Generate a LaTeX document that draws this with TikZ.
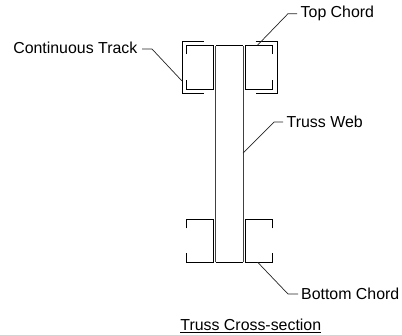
\documentclass[tikz,border=0pt]{standalone}
\usepackage{fontspec}
\setmainfont{Liberation Sans}
\begin{document}
\begin{tikzpicture}[x=1pt,y=-1pt,
  lbl/.style={font=\fontsize{15.9}{18}\selectfont,inner sep=0pt,text=black},
  member/.style={draw=black,line width=1pt,line cap=butt,line join=miter},
  leader/.style={draw=black!85,line width=0.7pt}]
\useasboundingbox (0,0) rectangle (402,335);
\fill[white] (0,0) rectangle (402,335);
% web
\draw[member,black!75] (215.7,262.3) -- (215.7,45.7);
\draw[member,black!75] (243,262.3) -- (243,45.7);
\draw[member] (215.7,45.7) -- (243,45.7);
\draw[member] (215.7,262.3) -- (243,262.3);
% top chord channels
\draw[member] (186.3,54) -- (186.3,45.7) -- (213.5,45.7) -- (213.5,89) -- (186.3,89) -- (186.3,80);
\draw[member] (272.7,54) -- (272.7,45.7) -- (245.3,45.7) -- (245.3,89) -- (272.7,89) -- (272.7,80);
% tracks
\draw[member] (203.5,41.3) -- (182.3,41.3) -- (182.3,93.3) -- (203.5,93.3);
\draw[member] (255.7,41.3) -- (277,41.3) -- (277,93.3) -- (255.7,93.3);
% bottom chord channels
\draw[member] (186.3,228.3) -- (186.3,219) -- (213.5,219) -- (213.5,262.3) -- (186.3,262.3) -- (186.3,253);
\draw[member] (272.7,228.3) -- (272.7,219) -- (245.3,219) -- (245.3,262.3) -- (272.7,262.3) -- (272.7,253);
% labels
\node[lbl,anchor=west] (top) at (300.5,13.5) {Top Chord};
\node[lbl,anchor=east] (track) at (137.5,48) {Continuous Track};
\node[lbl,anchor=west] (web) at (286.5,122) {Truss Web};
\node[lbl,anchor=west] (bottom) at (301,294) {Bottom Chord};
\node[lbl,anchor=center] (title) at (250.8,325.5) {\underline{Truss Cross-section}};
% anchors
\coordinate (topA) at (257.7,45);
\coordinate (trackA) at (182,81);
\coordinate (webA) at (243,153);
\coordinate (bottomA) at (257.7,262.3);
% leaders
\draw[leader] (297,13.7) -- (288,13.7) -- (topA);
\draw[leader] (142,49) -- (152,49) -- (trackA);
\draw[leader] (283,122) -- (274,122) -- (webA);
\draw[leader] (298,294) -- (288,294) -- (bottomA);
\end{tikzpicture}
\end{document}
